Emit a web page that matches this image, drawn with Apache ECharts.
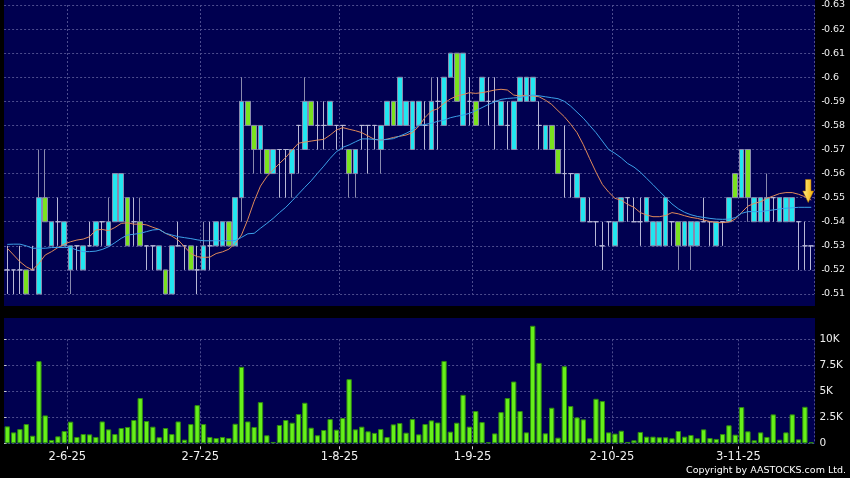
<!DOCTYPE html>
<html><head><meta charset="utf-8">
<script src="https://cdn.jsdelivr.net/npm/echarts@6/dist/echarts.min.js"></script>
<style>html,body{margin:0;padding:0;background:#000;}#c{width:850px;height:478px;}</style>
</head><body><div id="c"></div>
<script>
// ---- data ----
const dates = [
'20-5-25','21-5-25','22-5-25','23-5-25','26-5-25','27-5-25','28-5-25','29-5-25','30-5-25',
'2-6-25','3-6-25','4-6-25','5-6-25','6-6-25','9-6-25','10-6-25','11-6-25','12-6-25','13-6-25','16-6-25','17-6-25','18-6-25','19-6-25','20-6-25','23-6-25','24-6-25','25-6-25','26-6-25','27-6-25','30-6-25',
'2-7-25','3-7-25','4-7-25','7-7-25','8-7-25','9-7-25','10-7-25','11-7-25','14-7-25','15-7-25','16-7-25','17-7-25','18-7-25','21-7-25','22-7-25','23-7-25','24-7-25','25-7-25','28-7-25','29-7-25','30-7-25','31-7-25',
'1-8-25','4-8-25','5-8-25','6-8-25','7-8-25','8-8-25','11-8-25','12-8-25','13-8-25','14-8-25','15-8-25','18-8-25','19-8-25','20-8-25','21-8-25','22-8-25','25-8-25','26-8-25','27-8-25','28-8-25','29-8-25',
'1-9-25','2-9-25','3-9-25','4-9-25','5-9-25','8-9-25','9-9-25','10-9-25','11-9-25','12-9-25','15-9-25','16-9-25','17-9-25','18-9-25','19-9-25','22-9-25','23-9-25','24-9-25','25-9-25','26-9-25','29-9-25','30-9-25',
'2-10-25','3-10-25','6-10-25','8-10-25','9-10-25','10-10-25','13-10-25','14-10-25','15-10-25','16-10-25','17-10-25','20-10-25','21-10-25','22-10-25','23-10-25','24-10-25','27-10-25','28-10-25','30-10-25','31-10-25',
'3-11-25','4-11-25','5-11-25','6-11-25','7-11-25','10-11-25','11-11-25','12-11-25','13-11-25','14-11-25','17-11-25','18-11-25','19-11-25'
];
const opens = [
.52,.52,.52,.52,.52,.51,.55,.53,.54,.53,
.52,.53,.52,.53,.53,.54,.53,.54,.54,.55,
.54,.54,.53,.53,.52,.52,.51,.53,.53,.53,
.52,.52,.53,.53,.53,.54,.53,.55,.59,.58,
.57,.57,.56,.57,.57,.56,.58,.57,.59,.58,
.58,.58,.58,.58,.57,.56,.58,.58,.58,.57,
.58,.59,.58,.58,.57,.58,.58,.57,.59,.58,
.60,.61,.58,.59,.59,.59,.59,.59,.58,.58,
.57,.59,.59,.59,.58,.57,.58,.57,.56,.56,
.55,.54,.54,.54,.53,.54,.53,.54,.55,.54,
.54,.54,.53,.53,.53,.54,.54,.53,.53,.53,
.54,.54,.53,.54,.54,.56,.55,.57,.54,.54,
.54,.55,.54,.54,.54,.54,.53,.53];
const closes = [
.52,.52,.52,.51,.52,.55,.54,.54,.54,.54,
.53,.53,.53,.53,.54,.54,.54,.56,.56,.53,
.54,.53,.53,.53,.53,.51,.53,.53,.53,.52,
.52,.53,.53,.54,.54,.53,.55,.59,.58,.57,
.58,.56,.57,.57,.57,.57,.58,.59,.58,.58,
.58,.59,.58,.58,.56,.57,.58,.58,.58,.58,
.59,.58,.60,.59,.59,.59,.58,.59,.59,.60,
.61,.59,.61,.59,.58,.60,.59,.59,.59,.58,
.59,.60,.60,.60,.58,.58,.57,.56,.56,.56,
.56,.55,.54,.54,.53,.54,.54,.55,.55,.54,
.54,.55,.54,.54,.55,.54,.53,.54,.54,.54,
.54,.54,.54,.54,.55,.55,.57,.55,.55,.55,
.55,.55,.55,.55,.55,.54,.53,.53];
const lows = [
.51,.51,.51,.51,.52,.51,.54,.53,.53,.53,
.51,.52,.52,.53,.53,.53,.53,.54,.54,.53,
.53,.53,.52,.52,.52,.51,.51,.53,.52,.52,
.51,.52,.52,.53,.53,.53,.53,.54,.58,.56,
.56,.56,.56,.55,.55,.55,.56,.57,.58,.57,
.57,.58,.57,.57,.55,.55,.57,.56,.57,.56,
.58,.58,.58,.58,.57,.58,.57,.57,.57,.58,
.60,.59,.58,.58,.58,.59,.58,.57,.58,.57,
.57,.59,.59,.59,.57,.57,.57,.56,.55,.55,
.55,.54,.54,.53,.52,.53,.53,.54,.54,.54,
.53,.54,.53,.53,.53,.53,.52,.53,.52,.53,
.54,.53,.53,.53,.54,.55,.55,.54,.54,.54,
.54,.54,.54,.54,.54,.52,.52,.52];
const highs = [
.53,.52,.53,.52,.53,.57,.57,.54,.55,.54,
.53,.53,.53,.54,.54,.54,.55,.56,.56,.55,
.55,.55,.53,.53,.53,.52,.53,.54,.53,.53,
.53,.54,.54,.54,.54,.54,.55,.60,.59,.58,
.58,.57,.57,.57,.57,.57,.58,.60,.59,.59,
.59,.59,.58,.58,.57,.57,.58,.58,.58,.58,
.59,.59,.60,.59,.59,.59,.59,.60,.60,.60,
.61,.61,.61,.60,.59,.60,.60,.60,.59,.59,
.59,.60,.60,.60,.59,.58,.58,.57,.58,.56,
.56,.55,.55,.54,.54,.54,.54,.55,.55,.55,
.55,.55,.54,.54,.55,.54,.54,.54,.54,.54,
.55,.54,.54,.54,.55,.56,.57,.57,.55,.55,
.56,.55,.55,.55,.55,.54,.54,.53];
const volumes = [
1630,1050,1370,1850,730,7900,2680,320,670,1180,
2080,610,890,860,610,2100,1340,890,1470,1570,
2240,4350,2140,1600,580,1470,890,2100,350,1850,
3670,1850,610,510,610,510,1880,7350,2100,1570,
3960,770,130,1760,2240,1980,2810,3900,1500,770,
1280,2330,1310,2430,6170,1340,1600,1150,1000,1370,
600,1820,1950,1020,2330,860,1850,2200,2000,7920,
1120,1980,4660,1600,3100,2040,100,950,3000,4350,
5940,3100,1050,11300,7730,960,3420,540,7410,3580,
2490,2300,480,4280,4060,1050,930,1210,130,290,
1090,640,640,580,580,480,1180,640,800,480,
1340,510,420,890,1730,830,3480,1150,290,1050,
610,2780,350,1050,2780,380,3510,100];
const ma10 = [
.5290,.5262,.5234,.5213,.5200,.5227,.5262,.5276,.5293,.5307,
.5317,.5324,.5328,.5338,.5366,.5368,.5363,.5376,.5393,.5396,
.5390,.5390,.5387,.5377,.5368,.5352,.5340,.5324,.5296,.5268,
.5255,.5252,.5253,.5268,.5275,.5286,.5310,.5345,.5410,.5485,
.5548,.5587,.5615,.5642,.5667,.5698,.5726,.5731,.5735,.5739,
.5742,.5760,.5781,.5791,.5784,.5778,.5770,.5756,.5742,.5739,
.5743,.5750,.5755,.5760,.5770,.5796,.5833,.5860,.5869,.5892,
.5910,.5922,.5928,.5936,.5933,.5936,.5941,.5947,.5950,.5947,
.5926,.5922,.5925,.5922,.5919,.5905,.5887,.5861,.5836,.5805,
.5770,.5720,.5662,.5606,.5555,.5523,.5497,.5490,.5472,.5460,
.5438,.5428,.5421,.5421,.5426,.5438,.5433,.5425,.5418,.5414,
.5407,.5401,.5397,.5396,.5399,.5411,.5439,.5465,.5476,.5483,
.5497,.5507,.5517,.5521,.5521,.5514,.5504,.5490];
const ma20 = [
.5306,.5307,.5307,.5300,.5290,.5290,.5290,.5293,.5293,.5293,
.5293,.5282,.5276,.5276,.5278,.5285,.5296,.5313,.5331,.5345,
.5348,.5352,.5359,.5366,.5368,.5352,.5345,.5338,.5334,.5330,
.5325,.5321,.5321,.5321,.5321,.5321,.5322,.5335,.5350,.5352,
.5373,.5393,.5414,.5438,.5460,.5487,.5515,.5543,.5570,.5601,
.5631,.5663,.5691,.5709,.5719,.5732,.5744,.5744,.5742,.5739,
.5742,.5745,.5756,.5767,.5781,.5800,.5804,.5809,.5817,.5822,
.5832,.5838,.5843,.5850,.5861,.5874,.5887,.5898,.5908,.5912,
.5914,.5916,.5922,.5926,.5923,.5919,.5915,.5911,.5900,.5880,
.5855,.5830,.5800,.5770,.5735,.5700,.5684,.5665,.5642,.5627,
.5606,.5580,.5554,.5527,.5501,.5474,.5454,.5439,.5429,.5422,
.5418,.5414,.5411,.5410,.5411,.5417,.5435,.5442,.5442,.5442,
.5446,.5449,.5453,.5456,.5458,.5460,.5460,.5460];
const tickLabels = ['2-6-25','2-7-25','1-8-25','1-9-25','2-10-25','3-11-25'];
const priceAxis = {min: 0.51, max: 0.63, step: 0.01};
const volumeAxis = {min: 0, max: 10000, step: 2500};
const arrowMark = {date: '19-11-25', value: 0.548};

// ---- build ----
const candles = dates.map((d, i) => [opens[i], closes[i], lows[i], highs[i]]);
const tickIdx = tickLabels.map(t => dates.indexOf(t));
const boundary = tickIdx.map(i => i + 1);
const FONT = 'DejaVu Sans';
const gridLine = {show: true, lineStyle: {color: '#4c4c8e', type: [2, 2], width: 1}};
const vSplit = {show: true, interval: (idx) => boundary.indexOf(idx) >= 0, lineStyle: gridLine.lineStyle};

const chart = echarts.init(document.getElementById('c'), null, {renderer: 'canvas'});
chart.setOption({
  backgroundColor: '#000000',
  animation: false,
  textStyle: {fontFamily: FONT},
  graphic: {elements: [
    {type: 'rect', z: -100, silent: true, shape: {x: 4, y: 0, width: 811, height: 306}, style: {fill: '#000050'}},
    {type: 'rect', z: -100, silent: true, shape: {x: 4, y: 318, width: 811, height: 126}, style: {fill: '#000050'}},
    {type: 'text', z: 10, silent: true, x: 846, y: 471, style: {text: 'Copyright by AASTOCKS.com Ltd.', fill: '#ffffff', fontSize: 9.5, fontFamily: FONT, align: 'right', verticalAlign: 'middle'}}
  ]},
  grid: [
    {left: 4.1, right: 35.6, top: 5, height: 289},
    {left: 4.1, right: 35.6, top: 339.3, height: 104}
  ],
  xAxis: [
    {type: 'category', gridIndex: 0, data: dates, boundaryGap: true,
     axisLine: {show: false}, axisTick: {show: false}, axisLabel: {show: false}, splitLine: vSplit},
    {type: 'category', gridIndex: 1, data: dates, boundaryGap: true,
     axisLine: {show: false}, axisTick: {show: false}, axisLabel: {show: false}, splitLine: vSplit},
    {type: 'value', gridIndex: 1, min: 0, max: dates.length, position: 'bottom', offset: 3,
     axisLine: {show: false}, splitLine: {show: false},
     axisTick: {show: true, length: 3, customValues: boundary, lineStyle: {color: '#cfcfcf'}},
     axisLabel: {show: true, customValues: boundary, margin: 5, color: '#f0f0f0', fontSize: 11.5, fontFamily: FONT,
       formatter: (v) => { const k = boundary.indexOf(Math.round(v)); return k >= 0 ? tickLabels[k] : ''; }}}
  ],
  yAxis: [
    {type: 'value', gridIndex: 0, position: 'right', offset: 7.5, min: priceAxis.min, max: priceAxis.max, interval: priceAxis.step,
     axisLine: {show: false}, axisTick: {show: true, length: 2.5, lineStyle: {color: '#cfcfcf'}},
     axisLabel: {margin: 2, color: '#eeeeee', fontSize: 9.5, fontFamily: FONT, formatter: (v) => String(Math.round(v * 100) / 100)},
     splitLine: gridLine},
    {type: 'value', gridIndex: 1, position: 'right', offset: 3.5, min: volumeAxis.min, max: volumeAxis.max, interval: volumeAxis.step,
     axisLine: {show: false}, axisTick: {show: true, length: 2.5, lineStyle: {color: '#cfcfcf'}},
     axisLabel: {margin: 1.5, color: '#eeeeee', fontSize: 10.5, fontFamily: FONT, formatter: (v) => v === 0 ? '0' : (v / 1000) + 'K'},
     splitLine: gridLine}
  ],
  series: [
    {type: 'candlestick', xAxisIndex: 0, yAxisIndex: 0, data: candles, barWidth: '82%',
     itemStyle: {color: '#22e6f0', color0: '#7ae21e', borderColor: '#8a8aae', borderColor0: '#8a8aae', borderColorDoji: '#b8b8d6', borderWidth: 1},
     markPoint: {silent: true, symbol: 'path://M2.5,0L7.5,0L7.5,11L10,11L5,22L0,11L2.5,11Z', symbolSize: [11, 23], symbolOffset: [-3, '-50%'],
       itemStyle: {color: new echarts.graphic.LinearGradient(0, 0, 1, 0, [{offset: 0, color: '#fff08a'}, {offset: 1, color: '#f2ac00'}]), borderColor: '#b07000', borderWidth: 0.5},
       label: {show: false}, data: [{coord: [arrowMark.date, arrowMark.value]}]}},
    {type: 'line', xAxisIndex: 0, yAxisIndex: 0, data: ma10, showSymbol: false, symbol: 'none', lineStyle: {color: '#e08a5a', width: 1}, z: 3},
    {type: 'line', xAxisIndex: 0, yAxisIndex: 0, data: ma20, showSymbol: false, symbol: 'none', lineStyle: {color: '#3ca0e8', width: 1}, z: 3},
    {type: 'bar', xAxisIndex: 1, yAxisIndex: 1, data: volumes, barWidth: '84%', clip: false,
     itemStyle: {color: '#66f01a', borderColor: '#2f8a10', borderWidth: 1}}
  ]
});
</script></body></html>
